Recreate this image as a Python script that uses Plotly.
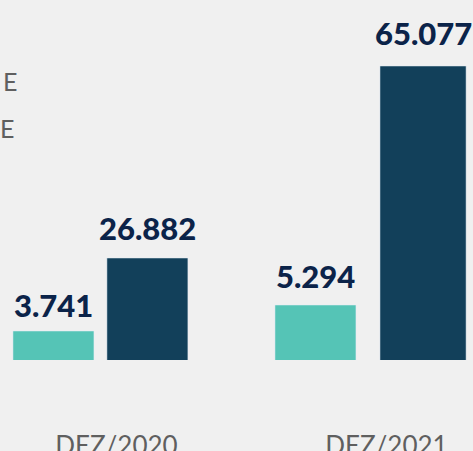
import plotly.graph_objects as go

# periodos e valores
periodos = ["DEZ/2020", "DEZ/2021"]
serie_a = [3.741, 5.294]
serie_b = [26.882, 65.077]
rotulos_a = ["3.741", "5.294"]
rotulos_b = ["26.882", "65.077"]

fundo = "#f0f0f0"
teal = "#55c4b6"
escuro = "#12405a"
azul_txt = "#0b2349"
cinza = "#5f5f5f"

# deslocamento/largura das barras em unidades de categoria
off_a, larg_a = [-0.324, -0.3535], [0.3, 0.3]
off_b, larg_b = [0.024, 0.0354], [0.3, 0.319]
folga_a, folga_b = [12, 15], [16, 19]   # px entre barra e rotulo

fig = go.Figure()
fig.add_trace(go.Bar(x=periodos, y=serie_a, marker_color=teal, yaxis="y",
                     offset=off_a, width=larg_a))
fig.add_trace(go.Bar(x=periodos, y=serie_b, marker_color=escuro, yaxis="y2",
                     offset=off_b, width=larg_b))

fonte_valor = dict(family="Lato", size=31, color=azul_txt, weight=900)
for i in range(len(periodos)):
    fig.add_annotation(text=rotulos_a[i], x=i + off_a[i] + larg_a[i] / 2, y=serie_a[i],
                       xref="x", yref="y", showarrow=False, yanchor="bottom",
                       yshift=folga_a[i] - 7, font=fonte_valor)
    fig.add_annotation(text=rotulos_b[i], x=i + off_b[i] + larg_b[i] / 2, y=serie_b[i],
                       xref="x", yref="y2", showarrow=False, yanchor="bottom",
                       yshift=folga_b[i] - 7, font=fonte_valor)

fig.update_layout(
    width=473, height=451,
    margin=dict(l=0, r=0, t=40, b=91),
    paper_bgcolor=fundo, plot_bgcolor=fundo,
    showlegend=False,
    barmode="overlay",
    font=dict(family="Lato", color=cinza),
    xaxis=dict(range=[-0.372, 1.38], showgrid=False, zeroline=False, showline=False,
               ticks="", automargin=False, ticklabelstandoff=68, ticklabelshift=16,
               tickfont=dict(family="Lato", size=26, color=cinza)),
    yaxis=dict(range=[2.009, 21.123], visible=False, fixedrange=True),
    yaxis2=dict(range=[6.59, 70.25], visible=False, overlaying="y", fixedrange=True),
)

# final das legendas (cortadas na borda)
fig.add_annotation(text="E", x=1 / 473, y=(360 - 81) / 320, xref="paper", yref="paper",
                   showarrow=False, xanchor="left", yanchor="middle",
                   font=dict(family="Lato", size=25, color=cinza))
fig.add_annotation(text="E", x=-2 / 473, y=(360 - 128) / 320, xref="paper", yref="paper",
                   showarrow=False, xanchor="left", yanchor="middle",
                   font=dict(family="Lato", size=25, color=cinza))

fig.write_html("out.html", config={"displayModeBar": False},
               post_script="document.body.style.margin='0';")
